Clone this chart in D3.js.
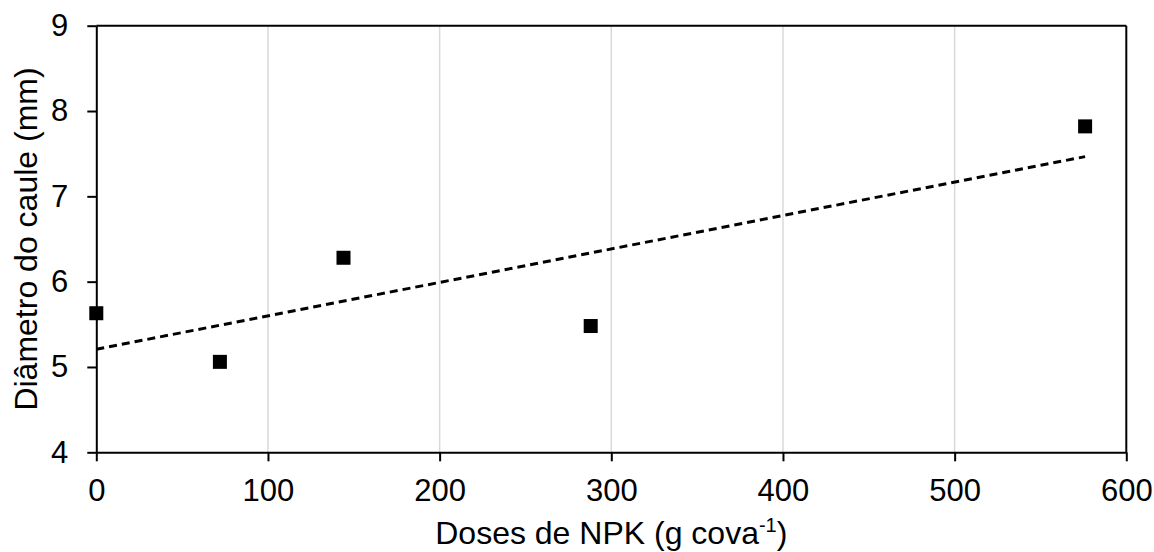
<!DOCTYPE html>
<html>
<head>
<meta charset="utf-8">
<script src="https://cdn.jsdelivr.net/npm/d3@7"></script>
<style>
  html, body { margin: 0; padding: 0; background: #fff; }
  svg { display: block; font-family: "Liberation Sans", Arial, sans-serif; }
</style>
</head>
<body>
<div id="chart"></div>
<script>
// data
const doses = [0, 72, 144, 288, 576];
const diametro = [5.63, 5.06, 6.28, 5.48, 7.82];
const xTicks = [0, 100, 200, 300, 400, 500, 600];
const yTicks = [4, 5, 6, 7, 8, 9];

let w = 1154;
let h = 552;
let margin = { top: 25.7, right: 27.7, bottom: 99.7, left: 96.3 };

let svg = d3.select('#chart').append('svg').attr('width', w).attr('height', h);

let x = d3.scaleLinear().domain([0, 600]).range([margin.left, w - margin.right]);
let y = d3.scaleLinear().domain([4, 9]).range([h - margin.bottom, margin.top]);

// vertical gridlines
svg.append('g')
  .selectAll('line')
  .data(xTicks.slice(1, -1))
  .enter().append('line')
  .attr('x1', d => x(d)).attr('x2', d => x(d))
  .attr('y1', y(9)).attr('y2', y(4))
  .attr('stroke', '#d9d9d9')
  .attr('stroke-width', 1.5);

// box: top and right
svg.append('line')
  .attr('x1', x(0)).attr('x2', x(600))
  .attr('y1', y(9)).attr('y2', y(9))
  .attr('stroke', '#000').attr('stroke-width', 2);
svg.append('line')
  .attr('x1', x(600)).attr('x2', x(600))
  .attr('y1', y(9)).attr('y2', y(4))
  .attr('stroke', '#000').attr('stroke-width', 2);

// axes
let xAxis = svg.append('g')
  .attr('transform', `translate(0, ${y(4)})`)
  .call(d3.axisBottom(x).tickValues(xTicks).tickFormat(d3.format('d'))
    .tickSize(9).tickPadding(18).tickSizeOuter(0));
let yAxis = svg.append('g')
  .attr('transform', `translate(${x(0)}, 0)`)
  .call(d3.axisLeft(y).tickValues(yTicks).tickFormat(d3.format('d'))
    .tickSize(9).tickPadding(19).tickSizeOuter(0));

[xAxis, yAxis].forEach(a => {
  a.select('.domain').attr('stroke', '#000').attr('stroke-width', 2);
  a.selectAll('.tick line').attr('stroke', '#000').attr('stroke-width', 2);
  a.selectAll('.tick text')
    .attr('fill', '#000')
    .attr('font-size', 31)
    .attr('font-family', '"Liberation Sans", Arial, sans-serif');
});

// linear trend line, fitted from the data
let mx = d3.mean(doses);
let my = d3.mean(diametro);
let sxy = d3.sum(doses, (d, i) => (d - mx) * (diametro[i] - my));
let sxx = d3.sum(doses, d => (d - mx) * (d - mx));
let slope = sxy / sxx;
let intercept = my - slope * mx;
let trend = d3.extent(doses).map(d => [d, intercept + slope * d]);

svg.append('path')
  .datum(trend)
  .attr('d', d3.line().x(d => x(d[0])).y(d => y(d[1])))
  .attr('fill', 'none')
  .attr('stroke', '#000')
  .attr('stroke-width', 3)
  .attr('stroke-dasharray', '8,5');

// markers
let size = 14;
svg.append('g')
  .selectAll('rect')
  .data(doses)
  .enter().append('rect')
  .attr('x', d => x(d) - size / 2)
  .attr('y', (d, i) => y(diametro[i]) - size / 2)
  .attr('width', size)
  .attr('height', size)
  .attr('fill', '#000');

// axis titles
let xt = svg.append('text')
  .attr('x', (x(0) + x(600)) / 2)
  .attr('y', 544)
  .attr('text-anchor', 'middle')
  .attr('font-size', 32)
  .attr('fill', '#000');
xt.append('tspan').text('Doses de NPK (g cova');
xt.append('tspan').attr('font-size', 20).attr('dy', -12).text('-1');
xt.append('tspan').attr('dy', 12).text(')');

svg.append('text')
  .attr('transform', `translate(37, ${(y(4) + y(9)) / 2}) rotate(-90)`)
  .attr('text-anchor', 'middle')
  .attr('font-size', 32)
  .attr('fill', '#000')
  .text('Diâmetro do caule (mm)');
</script>
</body>
</html>
